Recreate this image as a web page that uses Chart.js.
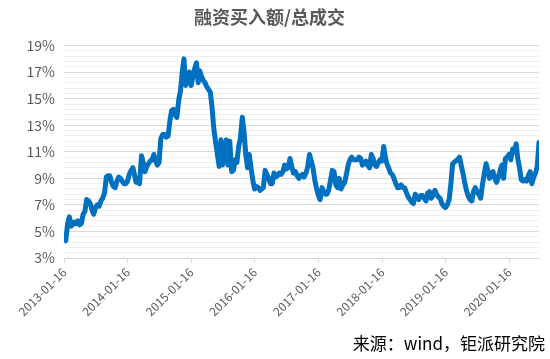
<!DOCTYPE html>
<html>
<head>
<meta charset="utf-8">
<script src="https://cdn.jsdelivr.net/npm/chart.js@4/dist/chart.umd.min.js"></script>
<style>
  body { margin: 0; background: #fff; }
  #wrap { position: relative; width: 550px; height: 359px; }
  #source {
    position: absolute; right: 5px; top: 330px;
    font: 17px "Noto Sans CJK SC", sans-serif; color: #000;
  }
</style>
</head>
<body>
<div id="wrap">
  <canvas id="chart" width="550" height="359"></canvas>
  <div id="source">来源：wind，钜派研究院</div>
</div>
<script>
// 融资买入额/总成交, values in %, read on the 5th / 15th / 25th of each month
const days = ['05', '15', '25'];
const years = [2013, 2014, 2015, 2016, 2017, 2018, 2019, 2020];
const startSlot = [1, 0, 0, 0, 0, 0, 0, 0]; // 2013 begins on Jan 15

const v2013 = [4.5, 4.3, 5.6, 6.1, 5.4, 5.5, 5.7, 5.6, 5.8, 5.5, 5.6, 6.3, 6.5, 7.4, 7.3, 7.1, 6.6, 6.3,
  6.8, 7.0, 6.9, 7.3, 7.5, 7.9, 9.1, 9.2, 9.2, 8.7, 8.4, 8.3, 8.8, 9.1, 9.0, 8.8, 8.6];
const v2014 = [8.6, 8.8, 9.3, 9.6, 9.8, 9.2, 8.7, 8.9, 8.6, 10.7, 10.2, 9.5, 9.9, 10.1, 10.3, 10.4, 10.8, 10.3,
  10.0, 10.2, 12.0, 12.3, 12.3, 12.1, 12.2, 13.3, 14.1, 14.2, 13.8, 13.6, 14.9, 15.6, 17.0, 18.0, 16.0, 16.8];
const v2015 = [17.0, 16.0, 16.6, 17.3, 17.7, 16.2, 17.1, 16.7, 16.4, 16.2, 15.9, 15.7, 15.5, 14.4, 12.8, 11.7, 10.8, 9.9,
  11.9, 10.0, 11.2, 11.9, 10.0, 11.8, 9.5, 9.6, 10.4, 10.2, 11.4, 12.0, 13.6, 12.5, 10.8, 9.8, 10.8, 9.8];
const v2016 = [8.8, 8.2, 8.4, 8.3, 8.1, 8.2, 8.3, 9.6, 9.3, 9.0, 8.6, 8.6, 9.4, 9.1, 9.2, 9.4, 9.3, 9.5,
  10.0, 9.7, 9.8, 10.5, 9.9, 9.4, 9.5, 9.2, 9.0, 9.2, 9.3, 9.1, 9.4, 9.9, 10.8, 10.3, 9.8, 8.9];
const v2017 = [8.2, 7.7, 7.4, 8.3, 8.0, 7.8, 7.8, 8.1, 8.8, 9.6, 9.5, 8.5, 8.3, 9.0, 8.2, 8.5, 8.7, 9.3,
  10.0, 10.4, 10.6, 10.4, 10.4, 10.4, 10.6, 10.5, 10.0, 10.1, 10.3, 10.0, 9.8, 10.8, 10.5, 10.0, 9.9, 10.2];
const v2018 = [10.4, 10.3, 11.4, 10.5, 10.0, 9.7, 9.4, 9.3, 9.0, 8.6, 8.3, 8.3, 8.5, 8.3, 8.3, 7.9, 7.6, 7.4,
  7.2, 7.1, 7.8, 7.6, 7.4, 7.7, 7.7, 7.5, 7.3, 7.9, 8.0, 7.5, 7.7, 8.1, 7.8, 7.6, 7.5, 7.1];
const v2019 = [6.9, 6.8, 7.0, 7.4, 8.6, 10.1, 10.2, 10.3, 10.4, 10.6, 10.0, 9.4, 8.7, 8.1, 7.7, 7.4, 7.3, 8.0,
  8.3, 8.0, 7.8, 7.5, 8.5, 9.3, 10.1, 9.6, 9.0, 9.3, 9.5, 9.0, 8.7, 9.1, 9.6, 10.0, 9.0, 10.5];
const v2020 = [10.6, 10.8, 10.4, 11.2, 11.0, 11.6, 10.5, 9.8, 8.9, 8.8, 8.9, 8.8, 9.2, 9.5, 8.6, 9.1, 9.4, 9.9, 11.7];

const yearValues = [v2013, v2014, v2015, v2016, v2017, v2018, v2019, v2020];

const tickLabels = ['2013-01-16', '2014-01-16', '2015-01-16', '2016-01-16',
  '2017-01-16', '2018-01-16', '2019-01-16', '2020-01-16'];

const points = [];
years.forEach((yr, k) => {
  yearValues[k].forEach((v, j) => {
    const slot = j + startSlot[k];
    const month = Math.floor(slot / 3);
    points.push({ x: Date.UTC(yr, month, Number(days[slot % 3])), y: v });
  });
});

const isMajor = v => Math.abs((v - 3) / 2 - Math.round((v - 3) / 2)) < 1e-6;

const chart = new Chart(document.getElementById("chart"), {
  type: "line",
  data: {
    datasets: [{
      data: points,
      borderColor: "#0070C0",
      borderWidth: 5,
      borderCapStyle: "round",
      borderJoinStyle: "round",
      pointRadius: 0,
      tension: 0,
      fill: false
    }]
  },
  options: {
    responsive: false,
    animation: false,
    layout: { padding: { left: 0, right: 11, top: 0, bottom: 41 } },
    plugins: {
      legend: { display: false },
      tooltip: { enabled: false },
      title: {
        display: true,
        text: "融资买入额/总成交",
        color: "#595959",
        font: { family: "Noto Sans CJK SC", size: 18, weight: "bold" },
        padding: { top: 6, bottom: 18 }
      }
    },
    scales: {
      x: {
        type: "linear",
        min: points[0].x,
        max: points[points.length - 1].x,
        afterBuildTicks: s => { s.ticks = tickLabels.map(t => ({ value: Date.parse(t) })); },
        afterFit: s => { s.height = 60; },
        border: { display: true, color: "#d9d9d9" },
        grid: { drawOnChartArea: false, color: "#d9d9d9", tickLength: 5 },
        ticks: {
          autoSkip: false,
          maxRotation: 45,
          minRotation: 45,
          padding: 2,
          color: "#595959",
          font: { family: "Noto Sans CJK SC", size: 12 },
          callback: (v, i) => tickLabels[i]
        }
      },
      y: {
        min: 3,
        max: 19,
        afterFit: s => { s.width = 64; },
        border: { display: false },
        grid: {
          drawTicks: false,
          color: c => isMajor(c.tick.value) ? "#d9d9d9" : "#f0f0f0"
        },
        ticks: {
          stepSize: 0.4,
          autoSkip: false,
          padding: 9,
          color: "#595959",
          font: { family: "Noto Sans CJK SC", size: 14 },
          callback: v => isMajor(v) ? Math.round(v) + "%" : ""
        }
      }
    }
  }
});
</script>
</body>
</html>
